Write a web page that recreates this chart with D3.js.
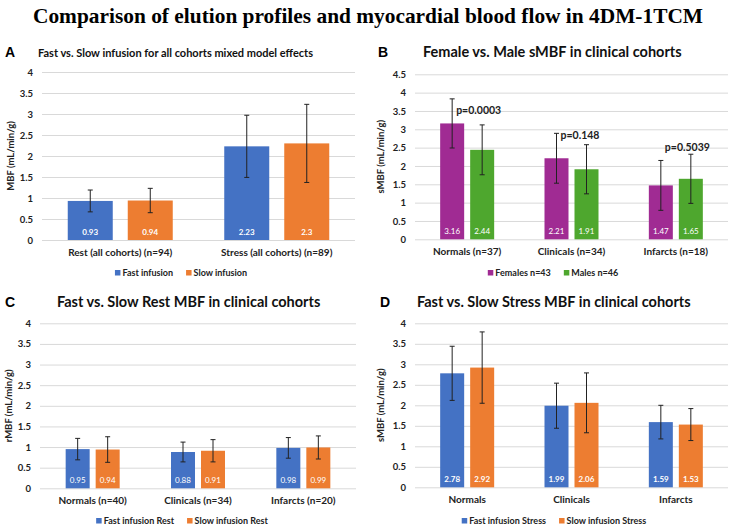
<!DOCTYPE html>
<html>
<head>
<meta charset="utf-8">
<script src="https://cdn.jsdelivr.net/npm/d3@7"></script>
<style>
  body { margin: 0; background: #fff; }
  svg { display: block; }
  text { font-family: Lato, "Open Sans", sans-serif; }
</style>
</head>
<body>
<svg id="chart" width="735" height="530"></svg>
<script>
const mainTitle = "Comparison of elution profiles and myocardial blood flow in 4DM-1TCM";

// panel A
const catsA = ["Rest (all cohorts) (n=94)", "Stress (all cohorts) (n=89)"];
const fastA = [0.93, 2.23];
const fastErrA = [0.26, 0.74];
const slowA = [0.94, 2.3];
const slowErrA = [0.29, 0.93];

// panel B
const catsB = ["Normals (n=37)", "Clinicals (n=34)", "Infarcts (n=18)"];
const femalesB = [3.16, 2.21, 1.47];
const femalesErrB = [0.67, 0.68, 0.68];
const malesB = [2.44, 1.91, 1.65];
const malesErrB = [0.68, 0.67, 0.67];
const pTextB = ["p=0.0003", "p=0.148", "p=0.5039"];
const pLevelB = [3.41, 2.73, 2.41];

// panel C
const catsC = ["Normals (n=40)", "Clinicals (n=34)", "Infarcts (n=20)"];
const fastC = [0.95, 0.88, 0.98];
const fastErrC = [0.26, 0.24, 0.25];
const slowC = [0.94, 0.91, 0.99];
const slowErrC = [0.31, 0.27, 0.28];

// panel D
const catsD = ["Normals", "Clinicals", "Infarcts"];
const fastD = [2.78, 1.99, 1.59];
const fastErrD = [0.66, 0.55, 0.41];
const slowD = [2.92, 2.06, 1.53];
const slowErrD = [0.87, 0.73, 0.39];

const ticks4 = d3.range(0, 4.01, 0.5);
const ticks45 = d3.range(0, 4.51, 0.5);

const blue = "#4472c4", orange = "#ed7d31", purple = "#a02b93", green = "#4ea72e";

const svg = d3.select("#chart");

svg.append("text")
  .attr("x", 368).attr("y", 23)
  .attr("text-anchor", "middle")
  .style("font-family", "'Liberation Serif', 'Times New Roman', serif")
  .style("font-weight", "bold")
  .style("font-size", "21px")
  .attr("textLength", 670)
  .attr("lengthAdjust", "spacingAndGlyphs")
  .text(mainTitle);

const drawPanel = (p) => {
  const g = svg.append("g");

  const y = d3.scaleLinear().domain([0, p.ymax]).range([p.y0, p.ytop]);
  const x0 = d3.scaleBand().domain(p.cats).range([p.left, p.right]);
  const x1 = d3.scaleBand().domain(d3.range(p.series.length))
    .range([0, p.barW * 2 + p.gap]).paddingInner(p.gap / (p.barW + p.gap));
  const groupW = p.barW * 2 + p.gap;

  // gridlines + tick labels
  const yAxis = d3.axisLeft(y).tickValues(p.ticks).tickFormat(d3.format("~g"))
    .tickSize(-(p.right - p.left)).tickPadding(9);
  const ax = g.append("g").attr("transform", `translate(${p.left},0)`).call(yAxis);
  ax.select(".domain").remove();
  ax.selectAll("line").attr("stroke", "#d9d9d9").attr("stroke-width", 1);
  ax.selectAll("text").style("font-size", "9.5px").style("font-weight", "bold")
    .attr("fill", "#222");

  // bars
  p.series.forEach((s, si) => {
    const bx = (c) => x0(c) + x0.bandwidth() / 2 - groupW / 2 + x1(si);
    g.selectAll(null).data(s.values).enter().append("rect")
      .attr("x", (d, i) => bx(p.cats[i]))
      .attr("y", (d) => y(d))
      .attr("width", x1.bandwidth())
      .attr("height", (d) => y(0) - y(d))
      .attr("fill", s.color);

    // error bars
    const eb = g.selectAll(null).data(s.values).enter().append("g")
      .attr("stroke", "#222").attr("stroke-width", 1);
    eb.append("line")
      .attr("x1", (d, i) => bx(p.cats[i]) + x1.bandwidth() / 2)
      .attr("x2", (d, i) => bx(p.cats[i]) + x1.bandwidth() / 2)
      .attr("y1", (d, i) => y(d - s.err[i]))
      .attr("y2", (d, i) => y(d + s.err[i]));
    [-1, 1].forEach((sign) => {
      eb.append("line")
        .attr("x1", (d, i) => bx(p.cats[i]) + x1.bandwidth() / 2 - 2.5)
        .attr("x2", (d, i) => bx(p.cats[i]) + x1.bandwidth() / 2 + 2.5)
        .attr("y1", (d, i) => y(d + sign * s.err[i]))
        .attr("y2", (d, i) => y(d + sign * s.err[i]));
    });

    // value labels
    g.selectAll(null).data(s.values).enter().append("text")
      .attr("x", (d, i) => bx(p.cats[i]) + x1.bandwidth() / 2)
      .attr("y", y(0) - 5)
      .attr("text-anchor", "middle")
      .attr("fill", "#fff")
      .style("font-size", "8px")
      .style("font-weight", p.labelWeight)
      .text((d) => d);
  });

  // category labels
  g.selectAll(null).data(p.cats).enter().append("text")
    .attr("x", (d) => x0(d) + x0.bandwidth() / 2)
    .attr("y", p.y0 + 16)
    .attr("text-anchor", "middle")
    .style("font-size", "10px").style("font-weight", "bold").attr("fill", "#222")
    .text((d) => d);

  // y axis title
  g.append("text")
    .attr("transform", `translate(${p.ylabX},${(p.y0 + p.ytop) / 2}) rotate(-90)`)
    .attr("text-anchor", "middle")
    .style("font-size", "9.5px").style("font-weight", "bold").attr("fill", "#222")
    .text(p.ylabel);

  // panel letter + title
  g.append("text").attr("x", p.letterX).attr("y", p.titleY)
    .style("font-family", "'Liberation Sans', Arial, sans-serif")
    .style("font-size", "14px").style("font-weight", "bold")
    .text(p.letter);
  g.append("text").attr("x", p.titleX).attr("y", p.titleY)
    .style("font-size", p.titleSize).style("font-weight", "bold").attr("fill", "#111")
    .text(p.title);

  // legend, centred on the panel
  const lg = g.append("g");
  let cx = 0;
  p.series.forEach((s) => {
    lg.append("rect").attr("x", cx).attr("y", -6).attr("width", 5.5).attr("height", 5.5)
      .attr("fill", s.color);
    const t = lg.append("text").attr("x", cx + 7.5).attr("y", 0)
      .style("font-size", "9px").style("font-weight", "bold").attr("fill", "#222")
      .text(s.name);
    cx += 7.5 + t.node().getComputedTextLength() + 13;
  });
  cx -= 13;
  lg.attr("transform", `translate(${p.legendCx - cx / 2},${p.legendY})`);

  return { g, x0, x1, y, groupW };
};

drawPanel({
  letter: "A", letterX: 5, titleX: 38, titleY: 57, titleSize: "11px",
  title: "Fast vs. Slow infusion for all cohorts mixed model effects",
  cats: catsA, ymax: 4, ticks: ticks4, left: 42, right: 355, y0: 240, ytop: 72,
  barW: 45, gap: 15, labelWeight: "bold", ylabX: 14, ylabel: "MBF (mL/min/g)",
  legendCx: 181, legendY: 276,
  series: [
    { name: "Fast infusion", values: fastA, err: fastErrA, color: blue },
    { name: "Slow infusion", values: slowA, err: slowErrA, color: orange }
  ]
});

const pb = drawPanel({
  letter: "B", letterX: 378, titleX: 423, titleY: 57, titleSize: "14.5px",
  title: "Female vs. Male sMBF in clinical cohorts",
  cats: catsB, ymax: 4.5, ticks: ticks45, left: 415, right: 728, y0: 239.3, ytop: 74.3,
  barW: 24, gap: 6, labelWeight: "normal", ylabX: 384, ylabel: "sMBF (mL/min/g)",
  legendCx: 553, legendY: 276,
  series: [
    { name: "Females n=43", values: femalesB, err: femalesErrB, color: purple },
    { name: "Males n=46", values: malesB, err: malesErrB, color: green }
  ]
});

// p-value labels in panel B
pb.g.selectAll(null).data(pTextB).enter().append("text")
  .attr("x", (d, i) => pb.x0(catsB[i]) + pb.x0.bandwidth() / 2 - pb.groupW / 2 + pb.x1.bandwidth() / 2 + 4)
  .attr("y", (d, i) => pb.y(pLevelB[i]))
  .style("font-size", "10.5px").style("font-weight", "bold").attr("fill", "#222")
  .text((d) => d);

drawPanel({
  letter: "C", letterX: 5, titleX: 57, titleY: 307, titleSize: "14.5px",
  title: "Fast vs. Slow Rest MBF in clinical cohorts",
  cats: catsC, ymax: 4, ticks: ticks4, left: 40, right: 356, y0: 488.3, ytop: 323.3,
  barW: 24, gap: 6, labelWeight: "normal", ylabX: 12, ylabel: "rMBF (mL/min/g)",
  legendCx: 182, legendY: 524,
  series: [
    { name: "Fast infusion Rest", values: fastC, err: fastErrC, color: blue },
    { name: "Slow infusion Rest", values: slowC, err: slowErrC, color: orange }
  ]
});

drawPanel({
  letter: "D", letterX: 380, titleX: 417, titleY: 307, titleSize: "14.5px",
  title: "Fast vs. Slow Stress MBF in clinical cohorts",
  cats: catsD, ymax: 4, ticks: ticks4, left: 415, right: 728, y0: 487.3, ytop: 323.3,
  barW: 24, gap: 6, labelWeight: "bold", ylabX: 384, ylabel: "sMBF (mL/min/g)",
  legendCx: 554, legendY: 524,
  series: [
    { name: "Fast infusion Stress", values: fastD, err: fastErrD, color: blue },
    { name: "Slow infusion Stress", values: slowD, err: slowErrD, color: orange }
  ]
});
</script>
</body>
</html>
